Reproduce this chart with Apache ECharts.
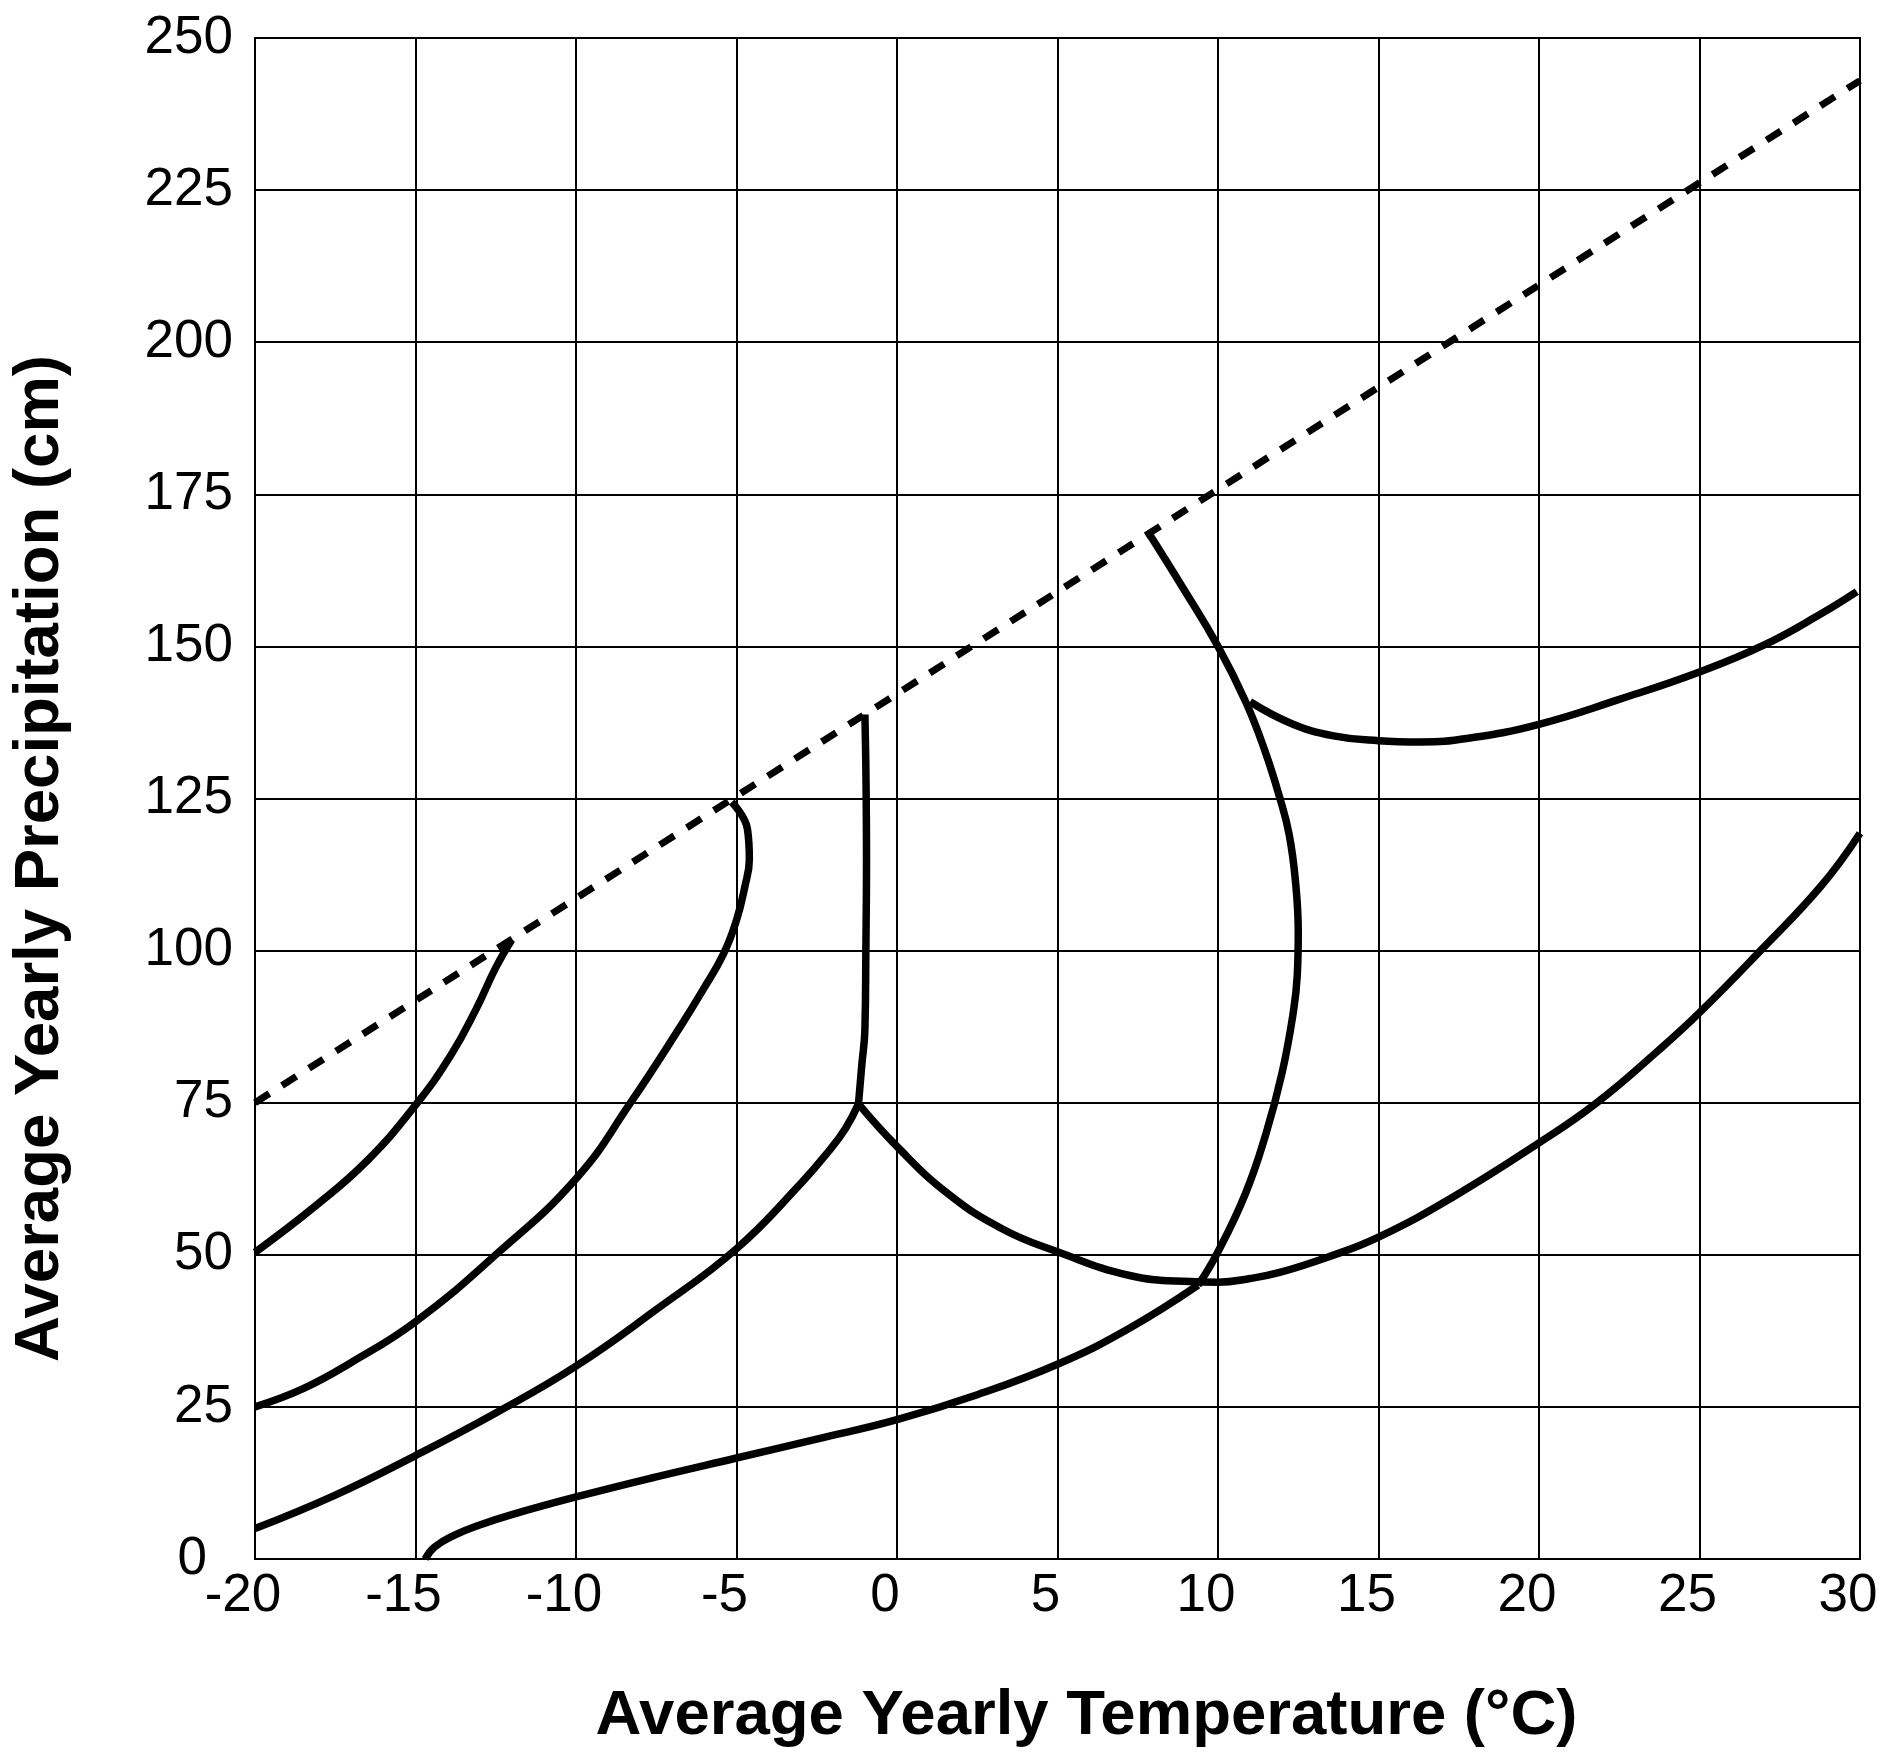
<!DOCTYPE html>
<html>
<head>
<meta charset="utf-8">
<script src="https://cdn.jsdelivr.net/npm/echarts@6/dist/echarts.min.js"></script>
<style>
html,body{margin:0;padding:0;background:#fff;}
#chart{width:1891px;height:1753px;}
</style>
</head>
<body>
<div id="chart"></div>
<script>
// Axis settings
const xTitle = 'Average Yearly Temperature (°C)';
const yTitle = 'Average Yearly Precipitation (cm)';
const xMin = -20, xMax = 30, xStep = 5;
const yMin = 0, yMax = 250, yStep = 25;

// Curves: [temperature °C, precipitation cm]
const dashedLine = [[-20,75],[30,243]];
const curveB = [[-20,50.4],[-18.1,58.1],[-16.5,65.5],[-15,74.6],[-13.9,82.8],[-13.1,90.5],[-12.5,97.2],[-12,101.8]];
const curveC = [[-20,25],[-18.5,28],[-17,32.3],[-15,39],[-12.5,50],[-10,62.5],[-8.3,75],[-6.75,87.5],[-6.05,93.5],[-5.4,99.5],[-5.0,105],[-4.74,110.5],[-4.6,115],[-4.66,120],[-5.15,124.4]];
const curveE = [[-20,5],[-17.5,10.5],[-15,17],[-12.5,24],[-10,31.7],[-7.5,41],[-5,51],[-3,61.7],[-2.1,67.2],[-1.6,70.8],[-1.2,74.8]];
const curveF = [[-1.2,74.8],[-1.1,81],[-1.0,87],[-0.97,100],[-0.95,115],[-0.97,130],[-1.0,138.8]];
const curveG = [[-1.2,74.8],[0,67.8],[1.6,60],[3.3,54.2],[5,50.5],[7.25,46.6],[9.12,45.6],[10,45.5],[11,46.1],[11.92,47.1],[13.41,49.6],[15,52.9],[17.35,59.6],[20,68.4],[21.8,75],[23.7,83.5],[25,89.8],[26.9,100],[28.8,110.7],[30,119.3]];
const curveH = [[-14.7,0],[-14.4,2],[-13.8,3.9],[-13,5.6],[-12,7.3],[-10,10.2],[-7.5,13.5],[-5,16.6],[-2.5,19.7],[0,22.9],[2.5,27],[5,32],[7.2,37.8],[9.38,45]];
const curveI = [[7.82,168.8],[8.91,159.6],[10,150],[10.88,140.7],[11.45,133],[11.92,125.2],[12.22,119],[12.42,111],[12.5,103],[12.47,96],[12.35,90],[12.0,80],[11.5,70],[10.85,60],[9.95,50],[9.38,45]];
const curveJ = [[11,140.9],[12.3,137.3],[13.6,135.3],[15,134.5],[16.3,134.3],[17.8,134.9],[20,137.2],[22.5,141.3],[25,145.8],[27,150.2],[28.8,155.4],[29.9,159]];

const solidCurves = [curveB, curveC, curveE, curveF, curveG, curveH, curveI, curveJ];

const chart = echarts.init(document.getElementById('chart'), null, {renderer:'canvas'});
const fontFam = '"Liberation Sans", Arial, Helvetica, sans-serif';

const series = [{
  type:'line', data: dashedLine, showSymbol:false, symbol:'none',
  lineStyle:{color:'#000', width:7, type:[17,15], cap:'butt'}, silent:true, z:3
}].concat(solidCurves.map(d => ({
  type:'line', data:d, showSymbol:false, symbol:'none', smooth:0.45,
  lineStyle:{color:'#000', width:7.5, cap:'butt', join:'round'}, silent:true, z:4
})));

chart.setOption({
  animation:false,
  backgroundColor:'#fff',
  grid:{left:255, top:38, right:31, bottom:192, show:true, borderColor:'#000', borderWidth:2, containLabel:false},
  xAxis:{
    type:'value', min:xMin, max:xMax, interval:xStep,
    axisLine:{show:true, lineStyle:{color:'#000', width:2}},
    axisTick:{show:false},
    splitLine:{show:true, lineStyle:{color:'#000', width:2}},
    axisLabel:{color:'#000', fontSize:53, fontFamily:fontFam, margin:11, padding:[0,24,0,0]},
    name:xTitle, nameLocation:'middle', nameGap:125,
    nameTextStyle:{color:'#000', fontSize:63.5, fontWeight:'bold', fontFamily:fontFam, padding:[0,0,0,58]}
  },
  yAxis:{
    type:'value', min:yMin, max:yMax, interval:yStep,
    axisLine:{show:true, lineStyle:{color:'#000', width:2}},
    axisTick:{show:false},
    splitLine:{show:true, lineStyle:{color:'#000', width:2}},
    axisLabel:{color:'#000', fontSize:53, fontFamily:fontFam, margin:22,
      formatter: v => v === 0 ? '{z|0}' : String(v),
      rich:{z:{fontSize:53, fontFamily:fontFam, color:'#000', padding:[0,26,0,0]}}},
    name:yTitle, nameLocation:'middle', nameGap:183,
    nameTextStyle:{color:'#000', fontSize:63.5, fontWeight:'bold', fontFamily:fontFam, padding:[0,120,0,0]}
  },
  series: series
});
</script>
</body>
</html>
